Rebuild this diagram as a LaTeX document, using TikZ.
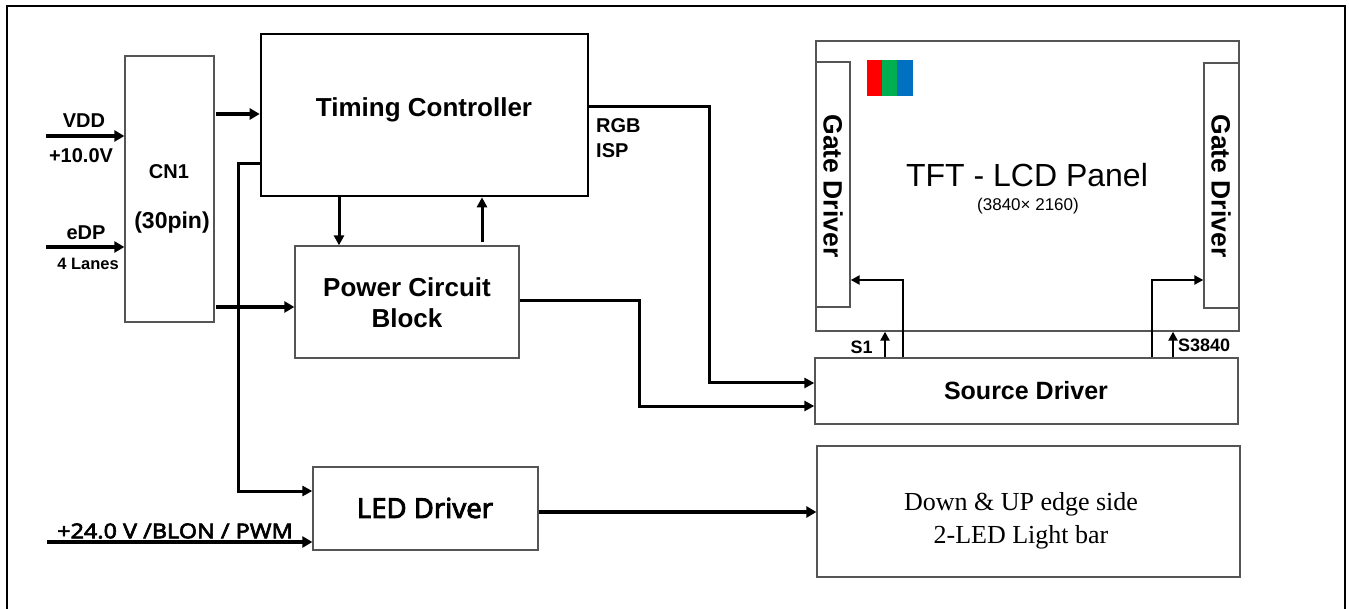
\documentclass[tikz,border=0pt]{standalone}
\usepackage{fontspec}
\setmainfont{Liberation Sans}
\newfontfamily\tnr{Liberation Serif}
\newfontfamily\nsb{Noto Sans}[FakeBold=3]
\newfontfamily\nsbw{Noto Sans}[FakeBold=3,FakeStretch=1.14]
\usetikzlibrary{arrows.meta,calc}
\definecolor{rgbr}{HTML}{FF0000}
\definecolor{rgbg}{HTML}{00B050}
\definecolor{rgbb}{HTML}{0070C0}
\definecolor{boxgray}{HTML}{555555}
\begin{document}
\begin{tikzpicture}[x=1pt,y=-1pt,
  blk/.style={draw=boxgray,line width=1.3pt,fill=white,inner sep=0pt},
  tcbox/.style={draw=black,line width=2.6pt,fill=white,inner sep=0pt},
  arr/.style={line width=3.3pt,-{Triangle[length=10pt,width=11pt]}},
  midarr/.style={line width=3pt,-{Triangle[length=10pt,width=10pt]}},
  thinarr/.style={line width=2.4pt,-{Triangle[length=9pt,width=9pt]}},
  lbl/.style={inner sep=0pt,font=\bfseries},
]
\useasboundingbox (0,0) rectangle (1349,609);
% outer frame
\draw[line width=2.4pt] (7,615) -- (7,6) -- (1345,6) -- (1345,615);

% boxes
\node[blk,minimum width=89pt,minimum height=266pt] (CN1) at (169.5,189) {};
\node[tcbox,minimum width=327pt,minimum height=162pt] (TC) at (424.5,115) {};
\node[blk,minimum width=224pt,minimum height=112pt] (PWR) at (407,302) {};
\node[blk,minimum width=225pt,minimum height=83pt] (LED) at (425.5,508.5) {};
\node[blk,minimum width=423pt,minimum height=290pt] (PNL) at (1027.5,186) {};
\node[blk,minimum width=34pt,minimum height=245pt] (GL) at (833,184.5) {};
\node[blk,minimum width=35pt,minimum height=245pt] (GR) at (1221.5,185.5) {};
\node[blk,minimum width=423pt,minimum height=66pt] (SRC) at (1026.5,391) {};
\node[blk,minimum width=423pt,minimum height=131pt] (LB) at (1028.5,511.5) {};

% RGB squares
\fill[rgbr] (867,60) rectangle (882,96);
\fill[rgbg] (882,60) rectangle (897,96);
\fill[rgbb] (897,60) rectangle (913,96);

% box texts
\node[lbl,font=\bfseries\fontsize{26}{30}\selectfont] (tTC) at (424,110) {Timing Controller};
\node[lbl,font=\bfseries\fontsize{20}{24}\selectfont] (tCN1) at (169,172) {CN1};
\node[lbl,font=\bfseries\fontsize{23}{27}\selectfont] (tCN2) at (172,223) {(30pin)};
\node[lbl,font=\bfseries\fontsize{26}{31}\selectfont,align=center] (tPWR) at (407,303) {Power Circuit\\Block};
\node[inner sep=0pt,font=\nsb\fontsize{27.5}{30}\selectfont] (tLED) at (425,508) {LED Driver};
\node[lbl,font=\bfseries\fontsize{25}{30}\selectfont] (tSRC) at (1026,391) {Source Driver};
\node[inner sep=0pt,font=\tnr\fontsize{26}{33}\selectfont,align=center] (tLB) at (1021,521) {Down \& UP edge side\\2-LED Light bar};
\node[inner sep=0pt,font=\fontsize{32}{36}\selectfont] (tPNL) at (1027,175) {TFT - LCD Panel};
\node[inner sep=0pt,font=\fontsize{17}{20}\selectfont] (tRES) at (1028,206) {(3840× 2160)};
\node[lbl,font=\bfseries\fontsize{26.5}{30}\selectfont,rotate=-90] (tGL) at (833,186) {Gate Driver};
\node[lbl,font=\bfseries\fontsize{26.5}{30}\selectfont,rotate=-90] (tGR) at (1221,186) {Gate Driver};

% labels
\node[lbl,font=\bfseries\fontsize{20}{24}\selectfont] (lVDD) at (84,121) {VDD};
\node[lbl,font=\bfseries\fontsize{20}{24}\selectfont] (lV10) at (81,155.5) {+10.0V};
\node[lbl,font=\bfseries\fontsize{20}{24}\selectfont] (lEDP) at (86,232.5) {eDP};
\node[lbl,font=\bfseries\fontsize{16.5}{20}\selectfont] (lLAN) at (88,264) {4 Lanes};
\node[inner sep=0pt,font=\nsbw\fontsize{20.5}{24}\selectfont] (l24) at (175,531) {+24.0 V /BLON / PWM};
\node[lbl,font=\bfseries\fontsize{20}{24}\selectfont,anchor=west] (lRGB) at (596,126) {RGB};
\node[lbl,font=\bfseries\fontsize{20}{24}\selectfont,anchor=west] (lISP) at (596,150.5) {ISP};
\node[lbl,font=\bfseries\fontsize{18}{22}\selectfont] (lS1) at (861.5,347) {S1};
\node[lbl,font=\bfseries\fontsize{18}{22}\selectfont,anchor=west] (lS3) at (1178,345.5) {S3840};

% helper coordinates
\coordinate (vdd) at (46,136);
\coordinate (edp) at (46,247);
\coordinate (v24) at (47,542);
\coordinate (c1) at (216,114);
\coordinate (c2) at (216,307);
\coordinate (tap) at (238,164);
\coordinate (ledin) at (238,491);
\coordinate (dn) at (339,0);
\coordinate (up) at (482,242);
\coordinate (rgbo) at (588,107);
\coordinate (rgbx) at (709,383);
\coordinate (pwo) at (519,301);
\coordinate (pwx) at (639,406);
\coordinate (s1) at (885,0);
\coordinate (s3) at (1173,0);
\coordinate (gl) at (903,280);
\coordinate (gr) at (1152,280);
\coordinate (lbo) at (539,512);

% connectors
\draw[arr] (vdd) -- (vdd -| CN1.west);
\draw[arr] (edp) -- (edp -| CN1.west);
\draw[arr] (v24) -- (v24 -| LED.west);
\draw[arr] (c1) -- (c1 -| TC.west);
\draw[arr] (c2) -- (c2 -| PWR.west);
\draw[midarr] (tap -| TC.west) -- (tap) -- (ledin) -- (ledin -| LED.west);
\draw[midarr] (dn |- TC.south) -- (dn |- PWR.north);
\draw[midarr] (up) -- (up |- TC.south);
\draw[midarr] (rgbo -| TC.east) -| (rgbx) -- (rgbx -| SRC.west);
\draw[midarr] (pwo -| PWR.east) -| (pwx) -- (pwx -| SRC.west);
\draw[thinarr] (s1 |- SRC.north) -- (s1 |- PNL.south);
\draw[thinarr] (s3 |- SRC.north) -- (s3 |- PNL.south);
\draw[thinarr] (gl |- SRC.north) -- (gl) -- (gl -| GL.east);
\draw[thinarr] (gr |- SRC.north) -- (gr) -- (gr -| GR.west);
\draw[arr] (lbo -| LED.east) -- (lbo -| LB.west);
\end{tikzpicture}
\end{document}
